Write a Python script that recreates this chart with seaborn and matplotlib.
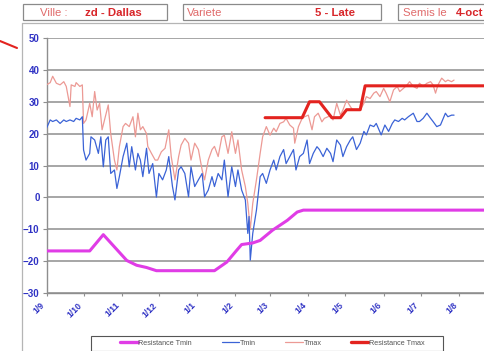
import matplotlib
matplotlib.use("Agg")
import matplotlib.pyplot as plt
import matplotlib.dates as mdates
from matplotlib.lines import Line2D
from matplotlib.patches import Rectangle
import pandas as pd
import seaborn as sns

# ---- data (day offsets from 1 September, temperatures in degC) ----
tmax_day = [0, 3, 5, 8, 11, 14, 16, 19, 20, 23, 24, 27, 29, 30, 32, 35, 37, 39, 41, 43,
            45, 47, 50, 52, 55, 57, 59, 62, 64, 67, 70, 72, 74, 76, 78, 81, 82, 85, 88, 90,
            93, 96, 99, 101, 104, 107, 109, 112, 115, 117, 120, 123, 126, 128, 131, 134, 136,
            139, 142, 144, 147, 150, 153, 155, 158, 161, 163, 165, 167, 170, 173, 175, 178,
            181, 184, 186, 189, 192, 194, 197, 200, 201, 204, 207, 209, 212, 215, 217, 220,
            223, 225, 228, 230, 232, 235, 238, 240, 243, 246, 248, 251, 254, 257, 259, 262,
            265, 267, 270, 273, 275, 278, 281, 284, 286, 289, 292, 294, 297, 300, 302, 305,
            308, 311, 313, 315, 317, 320, 323, 325, 328, 330]
tmax_val = [35.3, 36, 38, 35.8, 35.3, 36.3, 34.8, 28.5, 35.3, 34.8, 36, 34.8, 35.3, 23.2,
            24.3, 29.5, 25.3, 33.2, 27.4, 29.5, 21.2, 24.3, 29, 20, 11.7, 8.6, 15.9, 22.2,
            23.2, 22.2, 25.3, 19, 26.4, 21.2, 22.2, 20, 16, 13.8, 11.7, 11.7, 14.3, 15.4,
            21.2, 12.8, 5.5, 12.8, 16.4, 18.5, 17, 11.7, 17, 15, 8.6, 5.5, 11.7, 15, 16,
            12.8, 19, 19.5, 13.8, 20.6, 13.8, 18, 8.6, 3.4, -1.9, -10, -1.9, 5.5, 13.8, 19,
            22.2, 19.5, 21.7, 20.6, 23.2, 23.7, 24.8, 22.7, 21.7, 17, 22.2, 24.8, 25.3, 25.8,
            21.2, 25.3, 26.4, 23.7, 24.8, 25.3, 25.8, 24.3, 29.5, 25.8, 27.4, 30.5, 28.5,
            27.4, 27.4, 27.4, 29.5, 31.6, 31, 32.7, 33.2, 31.6, 34.2, 32.7, 30, 33.7, 34.8,
            33.2, 34.2, 35.3, 36.3, 34.8, 34.2, 35.8, 34.8, 35.8, 36.3, 35.3, 32.7, 35.3,
            37.4, 36.3, 36.8, 36.3, 36.8]

tmin_day = [0, 3, 5, 8, 11, 14, 16, 19, 22, 24, 27, 29, 30, 32, 35, 36, 39, 42, 44, 46,
            48, 50, 52, 55, 57, 59, 62, 65, 67, 69, 72, 74, 76, 78, 81, 83, 86, 89, 91, 94,
            97, 99, 102, 104, 107, 109, 112, 115, 117, 120, 123, 126, 128, 131, 134, 136,
            139, 142, 144, 147, 150, 153, 155, 158, 161, 163, 164, 165, 167, 170, 173, 175,
            178, 181, 184, 186, 189, 192, 194, 197, 200, 202, 205, 208, 211, 213, 216, 219,
            221, 224, 227, 230, 232, 235, 238, 240, 243, 246, 248, 251, 254, 257, 259, 262,
            265, 267, 271, 274, 277, 280, 282, 285, 288, 290, 293, 297, 300, 302, 305, 308,
            311, 313, 316, 319, 323, 325, 328, 330]
tmin_val = [21.7, 24.3, 23.8, 24.3, 23.2, 24.3, 23.8, 24.3, 23.8, 24.8, 24.3, 25.3, 14.9,
            11.7, 13.8, 19, 18, 13.8, 19, 9.6, 18, 19, 7.5, 8.6, 2.8, 6.5, 12.8, 17, 9.6,
            15.9, 8.6, 13.8, 11.7, 6.5, 15.4, 7.5, 10.6, 0.1, 7.5, 5.5, 8.6, 12.8, 3.4, -0.8,
            8.6, 9.6, 7.5, 0.2, 9.6, 3.4, 5.5, 7.5, 0.2, 2.3, 6.5, 3.4, 7.5, 5.5, 11.7, 0.2,
            9.6, 3.4, 8.6, 2.3, -0.8, -11.3, -6, -19.7, -11.3, -4, 6.5, 7.5, 4.4, 8.6, 11.7,
            8.6, 12.8, 15, 10.6, 12.8, 15, 8.6, 12.8, 13.8, 18, 10.6, 13.8, 15.9, 15, 12.8,
            15.4, 13.8, 11.2, 18, 16.4, 12.8, 15.9, 18, 19, 15, 17, 20.7, 19.6, 22.7, 22.2,
            23.2, 19.6, 22.7, 20.7, 23.2, 24.3, 23.8, 24.8, 24.3, 25.3, 26.4, 23.8, 23.8,
            24.8, 26.4, 24.8, 23.8, 22.2, 22.7, 26.4, 25.3, 25.8, 25.8]

res_tmin_day = [0, 35, 46, 65, 73, 81, 89, 136, 146, 154, 158, 167, 173, 183, 195, 203, 208, 365]
res_tmin_val = [-16.8, -16.8, -11.7, -19.8, -21.3, -22, -23, -23, -20.3, -16.6, -14.8,
                -14.3, -13.5, -10.3, -7.2, -4.6, -4, -4]

res_tmax_day = [177, 207, 213, 221, 231, 238, 243, 254, 258, 365]
res_tmax_val = [25, 25, 30, 30, 25, 25, 27.5, 27.5, 35, 35]

month_ticks = ["2009-09-01", "2009-10-01", "2009-11-01", "2009-12-01", "2010-01-01",
               "2010-02-01", "2010-03-01", "2010-04-01", "2010-05-01", "2010-06-01",
               "2010-07-01", "2010-08-01"]

header = [("Ville :", "zd - Dallas"), ("Variete", "5 - Late"), ("Semis le", "4-oct")]

legend_labels = ["Resistance Tmin", "Tmin", "Tmax", "Resistance Tmax"]

# ---- styling ----
C_TMAX = "#ec9a95"
C_TMIN = "#3b63d6"
C_RTMIN = "#e03ce6"
C_RTMAX = "#e3231f"
C_AXTXT = "#2f32c4"
C_HEAD = "#d8262a"

sns.set_theme(style="white")
plt.rcParams["font.family"] = ["Liberation Sans", "DejaVu Sans"]

W, H = 485, 351
start = pd.Timestamp("2009-09-01")


def frame(days, vals):
    return pd.DataFrame({"date": start + pd.to_timedelta(days, unit="D"), "value": vals})


def fx(x):
    return x / W


def fy(y):
    return 1 - y / H


fig = plt.figure(figsize=(W / 100, H / 100), dpi=100)
fig.patch.set_facecolor("white")

ax = fig.add_axes([fx(46.5), fy(293), 1 - fx(46.5), (293 - 38) / H])

sns.lineplot(data=frame(tmax_day, tmax_val), x="date", y="value", ax=ax,
             color=C_TMAX, lw=0.9, estimator=None, sort=False, zorder=3)
sns.lineplot(data=frame(tmin_day, tmin_val), x="date", y="value", ax=ax,
             color=C_TMIN, lw=0.9, estimator=None, sort=False, zorder=4)
sns.lineplot(data=frame(res_tmin_day, res_tmin_val), x="date", y="value", ax=ax,
             color=C_RTMIN, lw=2.2, estimator=None, sort=False, zorder=5)
sns.lineplot(data=frame(res_tmax_day, res_tmax_val), x="date", y="value", ax=ax,
             color=C_RTMAX, lw=2.2, estimator=None, sort=False, zorder=6)

ax.set_xlim(start, start + pd.Timedelta(days=(W - 46.5) / 1.235))
ax.set_ylim(-30, 50)
ax.set_yticks(range(-30, 51, 10))
ax.set_xticks(pd.to_datetime(month_ticks))
ax.xaxis.set_major_formatter(mdates.DateFormatter("%-d/%-m"))
ax.set_xlabel("")
ax.set_ylabel("")

ax.grid(axis="y", color="#8e8e8e", lw=1.1, zorder=0)
ax.grid(axis="x", visible=False)
for side in ("top", "right"):
    ax.spines[side].set_visible(False)
for side in ("left", "bottom"):
    ax.spines[side].set_color("#8e8e8e")
    ax.spines[side].set_linewidth(1.0)

ax.tick_params(axis="y", which="major", direction="out", length=3, width=0.8,
               color="#8e8e8e", pad=2, labelsize=7, labelcolor=C_AXTXT, left=True)
ax.tick_params(axis="x", which="major", direction="out", length=2.5, width=0.8,
               color="#8e8e8e", pad=3, labelsize=6.2, labelcolor=C_AXTXT, bottom=True)
for lab in ax.get_yticklabels():
    lab.set_fontweight("bold")
for lab in ax.get_xticklabels():
    lab.set_fontweight("bold")
    lab.set_rotation(45)
    lab.set_ha("right")
    lab.set_va("top")

# ---- outer chart frame and pointer ----
fig.add_artist(Line2D([fx(22), fx(22)], [fy(23), fy(351)], color="#b5b5b5", lw=0.9))
fig.add_artist(Line2D([fx(22), 1], [fy(23), fy(23)], color="#b5b5b5", lw=0.9))
fig.add_artist(Line2D([fx(0), fx(17)], [fy(41), fy(48)], color=C_RTMAX, lw=1.5))

# ---- header boxes ----
boxes = [(23, 167, 40, 85), (183, 381, 187, 315), (398, 495, 403, 456)]
for (x0, x1, tx0, tx1), (name, value) in zip(boxes, header):
    fig.add_artist(Rectangle((fx(x0), fy(20)), fx(x1 - x0), (20 - 4) / H,
                             fill=False, edgecolor="#8a8a8a", lw=0.9))
    fig.text(fx(tx0), fy(12.5), name, color="#e06a6a", fontsize=8.2, va="center", ha="left")
    fig.text(fx(tx1), fy(12.5), value, color=C_HEAD, fontsize=8.2, fontweight="bold",
             va="center", ha="left")

# ---- legend ----
fig.add_artist(Rectangle((fx(91), fy(350.5)), fx(443 - 91), (350.5 - 336) / H,
                         fill=False, edgecolor="#555555", lw=0.8))
handles = [Line2D([], [], color=C_RTMIN, lw=2.4),
           Line2D([], [], color=C_TMIN, lw=0.9),
           Line2D([], [], color=C_TMAX, lw=0.9),
           Line2D([], [], color=C_RTMAX, lw=2.4)]
leg = fig.legend(handles, legend_labels, ncol=4, loc="center",
                 bbox_to_anchor=(fx(272.5), fy(343.2)), fontsize=5.2, frameon=False,
                 handlelength=2.4, handletextpad=0.1, columnspacing=4.1, borderpad=0.0)
for t in leg.get_texts():
    t.set_color("#555555")

fig.savefig("out.png", dpi=100, facecolor="white")
